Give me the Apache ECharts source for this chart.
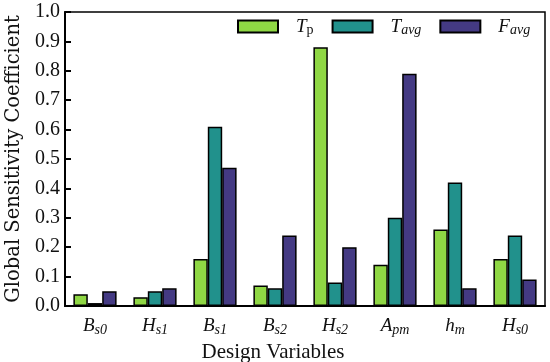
<!DOCTYPE html>
<html><head><meta charset="utf-8">
<script src="https://cdn.jsdelivr.net/npm/echarts@6/dist/echarts.min.js"></script>
<style>html,body{margin:0;padding:0;background:#fff}#c{width:550px;height:362px}</style>
</head><body><div id="c"></div>
<script>
const categories = [['B','s0'],['H','s1'],['B','s1'],['B','s2'],['H','s2'],['A','pm'],['h','m'],['H','s0']];
const seriesNames = [['T','p'],['T','avg'],['F','avg']];
const Tp   = [0.04, 0.03, 0.16, 0.07, 0.88, 0.14, 0.26, 0.16];
const Tavg = [0.01, 0.05, 0.61, 0.06, 0.08, 0.30, 0.42, 0.24];
const Favg = [0.05, 0.06, 0.47, 0.24, 0.20, 0.79, 0.06, 0.09];
const yTicks = [0.0,0.1,0.2,0.3,0.4,0.5,0.6,0.7,0.8,0.9,1.0];
const colors = ['#8fd744', '#21918c', '#443a83'];

const FONT = 'Liberation Serif';
const rich = {
  i: {fontFamily: FONT, fontStyle: 'italic', fontSize: 19, color: '#111'},
  s: {fontFamily: FONT, fontStyle: 'italic', fontSize: 14, color: '#111', padding: [8,0,0,0]},
  su: {fontFamily: FONT, fontSize: 14, color: '#111', padding: [8,0,0,0]},
  li: {fontFamily: FONT, fontStyle: 'italic', fontSize: 19, color: '#111', padding: [0,0,0,13]}
};
const catKeys = categories.map(c => c[0] + c[1]);
const data = [Tp, Tavg, Favg];
const chart = echarts.init(document.getElementById('c'));
chart.setOption({
  animation: false,
  grid: {left: 65, right: 5, top: 12, bottom: 56, outerBoundsMode: 'none', containLabel: false,
         show: true, borderColor: '#000', borderWidth: 1.5},
  legend: {
    top: 12, left: 232, itemWidth: 40, itemHeight: 12, itemGap: 18, icon: 'rect',
    data: seriesNames.map((s, k) => ({name: s[0] + s[1], icon: 'rect',
      itemStyle: {color: colors[k], borderColor: '#000', borderWidth: 2}})),
    formatter: function (n) {
      const s = seriesNames.find(x => x[0] + x[1] === n);
      return '{li|' + s[0] + '}{' + (s[1] === 'p' ? 'su' : 's') + '|' + s[1] + '}';
    },
    textStyle: {rich: rich},
    itemStyle: {borderColor: '#000', borderWidth: 2}
  },
  xAxis: {
    type: 'category', data: catKeys,
    axisLine: {lineStyle: {color: '#000', width: 2}},
    axisTick: {show: false},
    axisLabel: {
      margin: 9, interval: 0,
      formatter: function (v) {
        const c = categories.find(x => x[0] + x[1] === v);
        return '{i|' + c[0] + '}{s|' + c[1] + '}';
      },
      rich: rich
    },
    name: 'Design Variables', nameLocation: 'middle', nameGap: 27,
    nameTextStyle: {fontFamily: FONT, fontSize: 21, color: '#111', padding: [0, 64, 0, 0]}
  },
  yAxis: {
    type: 'value', min: 0, max: 1, interval: 0.1,
    axisLine: {show: true, lineStyle: {color: '#000', width: 2}},
    axisTick: {show: true, inside: true, length: 6, lineStyle: {color: '#000', width: 2}},
    splitLine: {show: false},
    axisLabel: {fontFamily: FONT, fontSize: 20, color: '#111', margin: 5,
      formatter: v => { const t = yTicks.find(x => Math.abs(x - v) < 1e-9); return (t === undefined ? v : t).toFixed(1); }},
    name: 'Global Sensitivity Coefficient', nameLocation: 'middle', nameGap: 37,
    nameTextStyle: {fontFamily: 'DejaVu Serif', fontSize: 19.5, color: '#111'}
  },
  series: seriesNames.map((s, k) => ({
    name: s[0] + s[1], type: 'bar', data: data[k], barGap: '0%', barCategoryGap: '28%',
    itemStyle: {color: colors[k], borderColor: '#000', borderWidth: 1.5}
  }))
});
</script></body></html>
